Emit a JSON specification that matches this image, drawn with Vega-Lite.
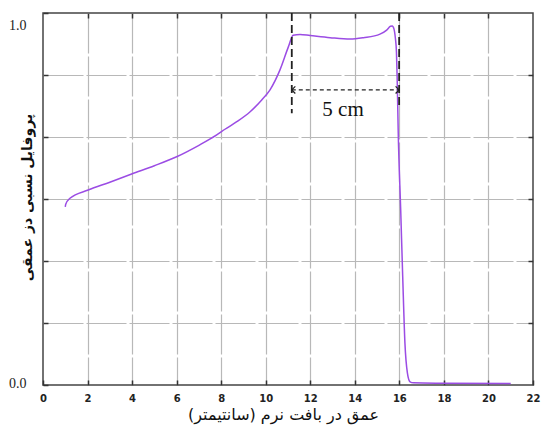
{
  "$schema": "https://vega.github.io/schema/vega-lite/v6.json",
  "width": 490,
  "height": 372,
  "autosize": {"type": "none"},
  "padding": {"left": 43, "top": 13, "right": 8, "bottom": 43},
  "background": "white",
  "config": {
    "view": {"stroke": "#444", "strokeWidth": 1.5},
    "axis": {"domain": false}
  },
  "datasets": {
    "curve": [
      {"x": 1.0, "y": 0.498},
      {"x": 1.02, "y": 0.505},
      {"x": 1.21, "y": 0.522},
      {"x": 2.03, "y": 0.545},
      {"x": 3.0, "y": 0.567},
      {"x": 3.98, "y": 0.59},
      {"x": 5.0, "y": 0.613},
      {"x": 6.0, "y": 0.638},
      {"x": 7.0, "y": 0.67},
      {"x": 7.8, "y": 0.699},
      {"x": 8.17, "y": 0.715},
      {"x": 8.7, "y": 0.736},
      {"x": 9.3, "y": 0.764},
      {"x": 9.82, "y": 0.797},
      {"x": 10.2, "y": 0.826},
      {"x": 10.64, "y": 0.881},
      {"x": 11.02, "y": 0.946},
      {"x": 11.23, "y": 0.978},
      {"x": 11.54, "y": 0.98},
      {"x": 11.99, "y": 0.977},
      {"x": 12.89, "y": 0.971},
      {"x": 13.79, "y": 0.967},
      {"x": 14.39, "y": 0.971},
      {"x": 15.13, "y": 0.981},
      {"x": 15.43, "y": 0.992},
      {"x": 15.6, "y": 1.003},
      {"x": 15.68, "y": 1.004},
      {"x": 15.76, "y": 0.995},
      {"x": 15.82, "y": 0.97},
      {"x": 15.87, "y": 0.93},
      {"x": 15.9, "y": 0.862},
      {"x": 15.95, "y": 0.704},
      {"x": 16.06, "y": 0.489},
      {"x": 16.15, "y": 0.303},
      {"x": 16.25, "y": 0.117},
      {"x": 16.36, "y": 0.034},
      {"x": 16.48, "y": 0.009},
      {"x": 16.63, "y": 0.006},
      {"x": 18.0, "y": 0.005},
      {"x": 21.0, "y": 0.004}
    ],
    "marks": [
      {"x": 11.17, "top": 1.04, "bottom": 0.76},
      {"x": 15.99, "top": 1.04, "bottom": 0.774}
    ],
    "arrow": [{"x": 11.17, "x2": 15.99, "y": 0.825}],
    "heads": [
      {"x": 11.17, "y": 0.825, "dir": "left"},
      {"x": 15.99, "y": 0.825, "dir": "right"}
    ],
    "label": [{"x": 13.47, "y": 0.769, "text": "5 cm"}]
  },
  "layer": [
    {
      "data": {"name": "curve"},
      "mark": {"type": "line", "color": "#9b4ce4", "strokeWidth": 1.5, "clip": true, "interpolate": "monotone"},
      "encoding": {
        "x": {
          "field": "x", "type": "quantitative",
          "scale": {"domain": [0, 22], "nice": false, "zero": false},
          "axis": {
            "orient": "bottom",
            "values": [0, 2, 4, 6, 8, 10, 12, 14, 16, 18, 20, 22],
            "grid": true,
            "gridColor": "#b8b8b8",
            "gridDash": [40, 3],
            "gridWidth": 1.2,
            "gridOpacity": {"condition": {"test": "datum.value == 0 || datum.value == 22", "value": 0}, "value": 1},
            "ticks": true,
            "tickSize": -5,
            "tickColor": "#333",
            "tickWidth": 1.5,
            "labelFont": "DejaVu Sans",
            "labelFontWeight": "bold",
            "labelFontSize": 10,
            "labelColor": "#222",
            "labelPadding": 13,
            "labelFlush": false,
            "title": "عمق در بافت نرم (سانتیمتر)",
            "titleFont": "DejaVu Sans",
            "titleFontSize": 16,
            "titleFontWeight": "normal",
            "titleColor": "#111",
            "titleX": 240,
            "titleY": 29,
            "titleAlign": "center",
            "titleBaseline": "middle"
          }
        },
        "y": {
          "field": "y", "type": "quantitative",
          "scale": {"domain": [0, 1.04], "nice": false, "zero": false},
          "axis": {
            "orient": "left",
            "values": [0, 0.17333, 0.34667, 0.52, 0.69333, 0.86667, 1, 1.04],
            "labelExpr": "datum.value == 0 ? '0.0' : (datum.value == 1 ? '1.0' : '')",
            "grid": true,
            "gridColor": "#b8b8b8",
            "gridDash": [40, 3],
            "gridWidth": 1.2,
            "gridOpacity": {"condition": {"test": "datum.value == 0 || datum.value == 1 || datum.value == 1.04", "value": 0}, "value": 1},
            "ticks": true,
            "tickSize": -5,
            "tickColor": "#333",
            "tickWidth": 1.5,
            "tickOpacity": {"condition": {"test": "datum.value == 1", "value": 0}, "value": 1},
            "labelFont": "Liberation Serif",
            "labelFontSize": 14,
            "labelColor": "#222",
            "labelPadding": 22,
            "labelOffset": -2,
            "title": "پروفایل نسبی دز عمقی",
            "titleFont": "DejaVu Sans",
            "titleFontSize": 14,
            "titleFontWeight": "bold",
            "titleColor": "#111",
            "titleAngle": -90,
            "titleX": -16,
            "titleY": 184,
            "titleAlign": "center",
            "titleBaseline": "middle"
          }
        }
      }
    },
    {
      "data": {"name": "marks"},
      "mark": {"type": "rule", "color": "#222", "strokeWidth": 1.8, "strokeDash": [8, 4]},
      "encoding": {
        "x": {"field": "x", "type": "quantitative", "axis": {"orient": "top", "values": [2, 4, 6, 8, 10, 12, 14, 16, 18, 20], "labels": false, "grid": false, "tickSize": -5, "tickColor": "#333", "tickWidth": 1.5, "title": null}},
        "y": {"field": "top", "type": "quantitative", "axis": {"orient": "right", "values": [0.17333, 0.34667, 0.52, 0.69333, 0.86667], "labels": false, "grid": false, "tickSize": -5, "tickColor": "#333", "tickWidth": 1.5, "title": null}},
        "y2": {"field": "bottom"}
      }
    },
    {
      "data": {"name": "arrow"},
      "mark": {"type": "rule", "color": "#222", "strokeWidth": 1.3, "strokeDash": [4, 3]},
      "encoding": {
        "x": {"field": "x", "type": "quantitative", "axis": null},
        "x2": {"field": "x2"},
        "y": {"field": "y", "type": "quantitative", "axis": null}
      }
    },
    {
      "data": {"name": "heads"},
      "mark": {"type": "point", "filled": false, "color": "#222", "strokeWidth": 1.3, "size": 50, "opacity": 1},
      "encoding": {
        "x": {"field": "x", "type": "quantitative", "axis": null},
        "y": {"field": "y", "type": "quantitative", "axis": null},
        "shape": {
          "field": "dir", "type": "nominal",
          "scale": {"domain": ["left", "right"], "range": ["M1,-1L0,0L1,1", "M-1,-1L0,0L-1,1"]},
          "legend": null
        }
      }
    },
    {
      "data": {"name": "label"},
      "mark": {"type": "text", "font": "Liberation Serif", "fontSize": 21, "color": "#111", "align": "center", "baseline": "middle"},
      "encoding": {
        "x": {"field": "x", "type": "quantitative", "axis": null},
        "y": {"field": "y", "type": "quantitative", "axis": null},
        "text": {"field": "text"}
      }
    }
  ],
  "resolve": {"axis": {"x": "independent", "y": "independent"}}
}
